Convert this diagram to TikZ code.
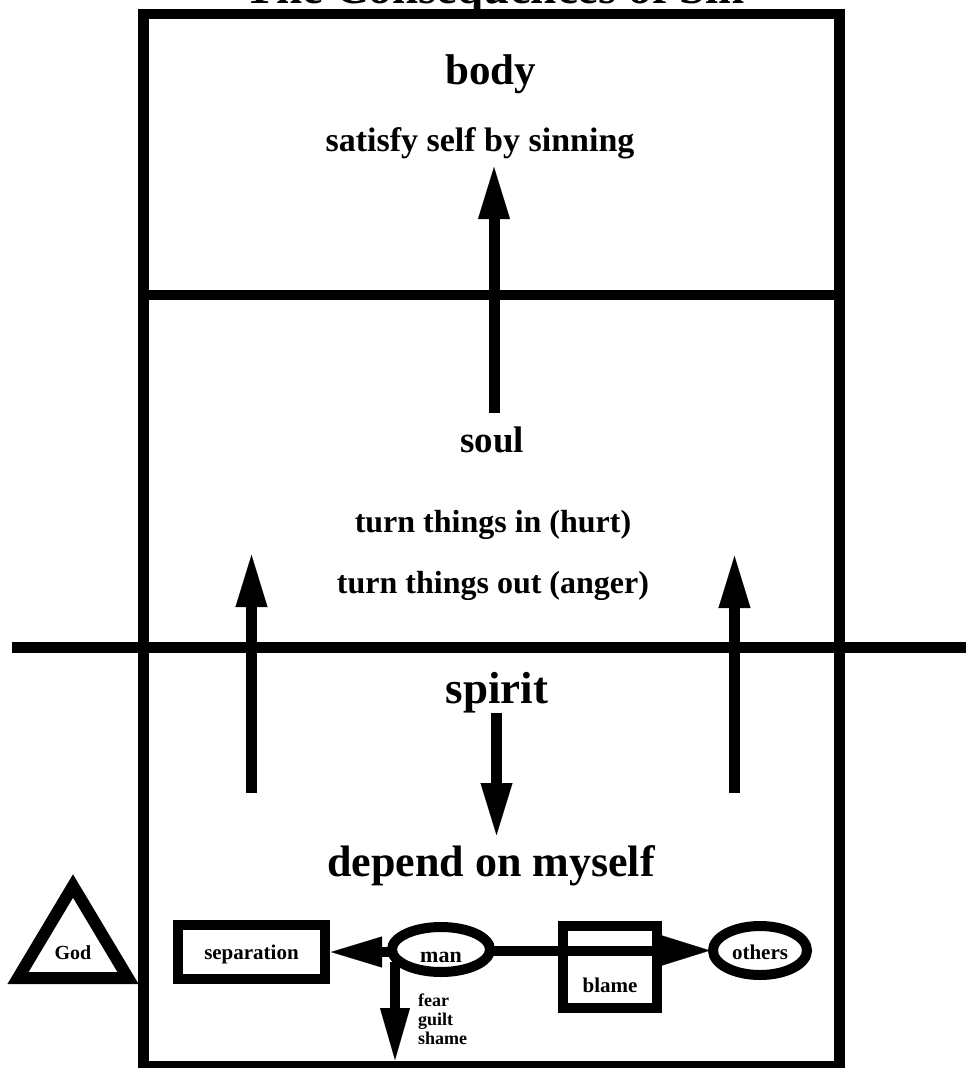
\documentclass[tikz,border=0pt]{standalone}
\usepackage{fontspec}
\setmainfont{Liberation Serif}
\usetikzlibrary{arrows.meta,shapes.geometric}
\newcommand\fsz[1]{\fontsize{#1}{#1}\selectfont\bfseries}
\tikzset{
  frame/.style={line width=10.5pt},
  bigarrow/.style={line width=11pt,-{Triangle[length=52pt,width=32pt,line width=0.1pt]}},
  smallarrow/.style={line width=10pt,-{Triangle[length=#1,width=31pt,line width=0.1pt]}},
  txt/.style={anchor=base,inner sep=0pt,outer sep=0pt},
  shapebox/.style={draw,line width=10pt,inner sep=0pt,outer sep=0pt,anchor=base,text depth=0pt},
}
\begin{document}
\begin{tikzpicture}[x=1pt,y=-1pt]
\useasboundingbox (0,0) rectangle (966,1068);
% frame
\draw[frame] (143.5,14) rectangle (839.5,1066);
\coordinate (dl) at (143.5,295);
\coordinate (dr) at (839.5,295);
\draw[frame] (dl) -- (dr);
\coordinate (hl) at (12,647.5);
\coordinate (hr) at (966,647.5);
\draw[frame] (hl) -- (hr);
% title and texts
\node[txt] (title) at (495,3) {\fsz{47}The Consequences of Sin};
\node[txt] (body) at (491,84) {\fsz{43}body};
\node[txt] (satisfy) at (480,151) {\fsz{34}satisfy self by sinning};
\node[txt] (soul) at (492,452) {\fsz{37}soul};
\node[txt] (turnin) at (493,532) {\fsz{32}turn things in (hurt)};
\node[txt] (turnout) at (493,593) {\fsz{32}turn things out (anger)};
\node[txt] (spirit) at (497,703) {\fsz{45}spirit};
\node[txt] (depend) at (491,876) {\fsz{44}depend on myself};
% vertical arrows
\coordinate (a1s) at (494,413);
\coordinate (a1e) at (494,167);
\draw[bigarrow] (a1s) -- (a1e);
\coordinate (a2s) at (251.5,793);
\coordinate (a2e) at (251.5,555);
\draw[bigarrow] (a2s) -- (a2e);
\coordinate (a3s) at (734.5,793);
\coordinate (a3e) at (734.5,556);
\draw[bigarrow] (a3s) -- (a3e);
\coordinate (a4s) at (496.5,713);
\coordinate (a4e) at (496.5,835);
\draw[bigarrow] (a4s) -- (a4e);
% God
\node[txt] (god) at (73,959) {\fsz{20}God};
\draw[line width=12pt,line join=miter] (73,886) -- (18,978) -- (128,978) -- cycle;
% bottom row
\node[shapebox,rectangle,minimum width=147pt,minimum height=54pt,text height=14pt] (sep) at (251.5,959) {\fsz{21}separation};
\node[shapebox,ellipse,minimum width=98pt,minimum height=45pt,text height=25pt] (man) at (441,962) {\fsz{22}man};
\node[shapebox,rectangle,minimum width=94pt,minimum height=82pt,text height=50pt] (blame) at (610,992) {\fsz{21}blame};
\node[shapebox,ellipse,minimum width=94pt,minimum height=49pt,text height=17pt] (others) at (760,959) {\fsz{21}others};
\draw[smallarrow=51pt,shorten >=6pt] (man.west |- sep.east) -- (sep.east);
\draw[line width=10pt,-{Triangle[length=48pt,width=30pt,line width=0.1pt]},shorten >=3pt] (man.east |- others.west) -- (others.west);
\coordinate (ds) at (395,962);
\coordinate (de) at (395,1060);
\draw[line width=10pt,-{Triangle[length=52pt,width=30pt,line width=0.1pt]}] (ds) -- (de);
\node[anchor=north west,inner sep=0pt,align=left,font=\fsz{18},text depth=0pt] (fear) at (418,994) {fear\\[1pt]guilt\\[1pt]shame};
\end{tikzpicture}
\end{document}
